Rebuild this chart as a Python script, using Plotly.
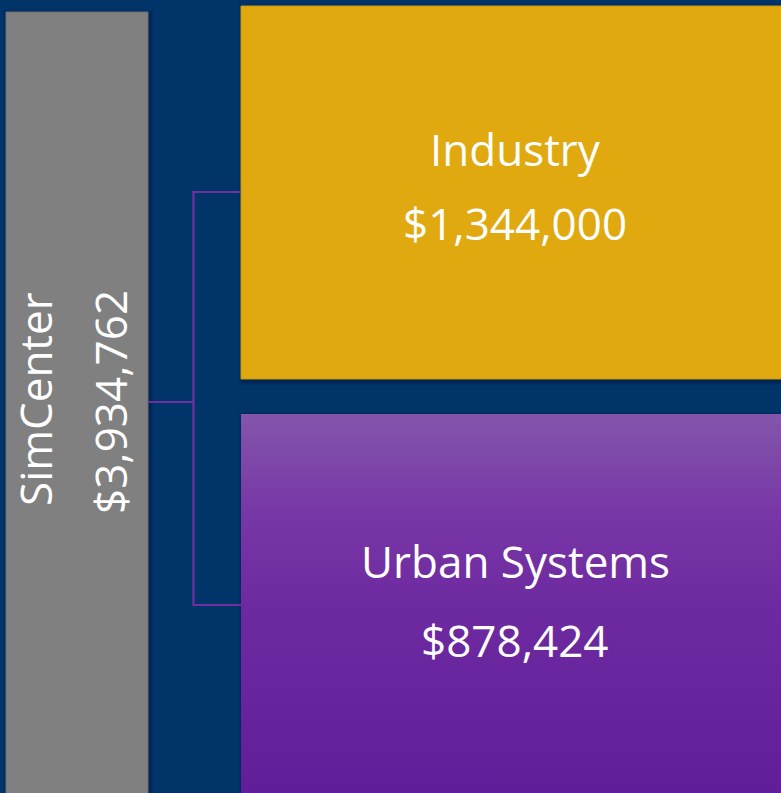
import plotly.graph_objects as go

# ---- data ----
names = ["SimCenter", "Industry", "Urban Systems"]
amounts = [3934762, 1344000, 878424]

# ---- layout constants (pixel-like data coordinates, y downwards) ----
W, H = 781, 793
BG = "#013468"
boxes = {
    "SimCenter": dict(x0=6, x1=148, y0=12, y1=800),
    "Industry": dict(x0=241, x1=790, y0=6, y1=379),
    "Urban Systems": dict(x0=241, x1=790, y0=414, y1=800),
}
fills = {"SimCenter": "#808080", "Industry": "#E0A90F"}
LINE = "#7030A0"
FONT = "Open Sans"

fig = go.Figure()

def rect_xy(b, pad=0.0, dx=0.0, dy=0.0):
    x0, x1, y0, y1 = b["x0"] - pad + dx, b["x1"] + pad + dx, b["y0"] - pad + dy, b["y1"] + pad + dy
    return [x0, x1, x1, x0, x0], [y0, y0, y1, y1, y0]

# soft shadows
for n in names:
    for pad, op in [(4, 0.08), (2.5, 0.12), (1.2, 0.18)]:
        xs, ys = rect_xy(boxes[n], pad, 1.5, 2)
        fig.add_trace(go.Scatter(x=xs, y=ys, mode="lines", fill="toself",
                                 fillcolor=f"rgba(0,10,40,{op})", line=dict(width=0),
                                 hoverinfo="skip", showlegend=False))

# boxes
for n in names:
    xs, ys = rect_xy(boxes[n])
    if n == "Urban Systems":
        fig.add_trace(go.Scatter(
            x=xs, y=ys, mode="lines", fill="toself",
            line=dict(width=0, color="#8155AA"),
            fillgradient=dict(type="vertical", start=boxes[n]["y1"], stop=boxes[n]["y0"],
                              colorscale=[[0, "#611D99"], [0.5, "#6D2AA0"], [0.75, "#7837A6"], [1, "#8356AB"]]),
            hoverinfo="skip", showlegend=False))
    else:
        edge = "#6E6E70" if n == "SimCenter" else "#C99A10"
        fig.add_trace(go.Scatter(x=xs, y=ys, mode="lines", fill="toself",
                                 fillcolor=fills[n], line=dict(width=1, color=edge),
                                 hoverinfo="skip", showlegend=False))

# connector bracket
src = boxes["SimCenter"]
ind = boxes["Industry"]
urb = boxes["Urban Systems"]
xm = 193.5
y_src, y_ind, y_urb = 402, 192, 605
fig.add_trace(go.Scatter(
    x=[src["x1"], xm, None, ind["x0"], xm, xm, urb["x0"]],
    y=[y_src, y_src, None, y_ind, y_ind, y_urb, y_urb],
    mode="lines", line=dict(color=LINE, width=2.2), hoverinfo="skip", showlegend=False))

def money(v):
    return "${:,}".format(v)

font = dict(family=FONT, size=44, color="white")
# horizontal labels
fig.add_annotation(x=515, y=149, text=names[1], showarrow=False, font=font, xanchor="center", yanchor="middle")
fig.add_annotation(x=515, y=223, text=money(amounts[1]), showarrow=False, font=font, xanchor="center", yanchor="middle")
fig.add_annotation(x=515, y=561, text=names[2], showarrow=False, font=font, xanchor="center", yanchor="middle")
fig.add_annotation(x=515, y=640, text=money(amounts[2]), showarrow=False, font=font, xanchor="center", yanchor="middle")
# rotated labels
fig.add_annotation(x=35, y=399, text=names[0], showarrow=False, font=font, textangle=-90,
                   xanchor="center", yanchor="middle")
fig.add_annotation(x=110, y=402, text=money(amounts[0]), showarrow=False, font=font, textangle=-90,
                   xanchor="center", yanchor="middle")

fig.update_layout(
    width=W, height=H, autosize=False,
    margin=dict(l=0, r=0, t=0, b=0),
    paper_bgcolor=BG, plot_bgcolor=BG,
    showlegend=False,
    xaxis=dict(range=[0, W], visible=False, fixedrange=True),
    yaxis=dict(range=[H, 0], visible=False, fixedrange=True),
)

fig.write_html("out.html", config={"displayModeBar": False},
               post_script="document.body.style.margin='0';document.body.style.background='%s';" % BG)
